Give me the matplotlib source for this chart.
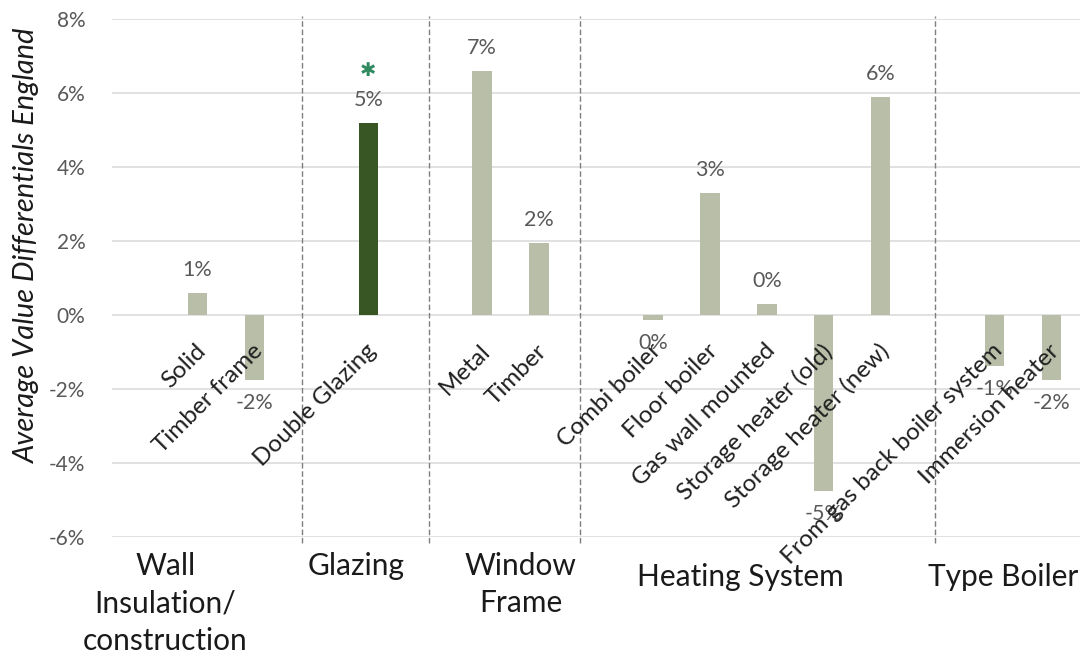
import numpy as np
import matplotlib
matplotlib.use("Agg")
import matplotlib.pyplot as plt
from matplotlib.ticker import FuncFormatter

# =========================
# data (values in %)
# =========================
categories = [
    "", "Solid", "Timber frame", "", "Double Glazing", "", "Metal", "Timber", "",
    "Combi boiler", "Floor boiler", "Gas wall mounted", "Storage heater (old)",
    "Storage heater (new)", "", "From gas back boiler system", "Immersion heater",
]
values = [
    np.nan, 0.6, -1.75, np.nan, 5.2, np.nan, 6.6, 1.95, np.nan,
    -0.13, 3.3, 0.3, -4.75, 5.9, np.nan, -1.38, -1.75,
]
value_labels = [
    "", "1%", "-2%", "", "5%", "", "7%", "2%", "",
    "0%", "3%", "0%", "-5%", "6%", "", "-1%", "-2%",
]
significant = ["Double Glazing"]
groups = ["Wall\nInsulation/\nconstruction", "Glazing", "Window\nFrame",
          "Heating System", "Type Boiler"]
yticks = [-6, -4, -2, 0, 2, 4, 6, 8]

# layout (data x)
GROUP_X = [0.44, 3.78, 6.68, 10.54, 15.15]
GROUP_Y = [-6.4, -6.4, -6.4, -6.7, -6.7]
SEP_X = [2.83, 5.06, 7.72, 13.95]

LIGHT = "#b8bea8"
DARK = "#375623"
STAR = "#2f8a60"
GRAY_TXT = "#595959"

plt.rcParams["font.family"] = ["Lato", "DejaVu Sans"]

fig = plt.figure(figsize=(10.87, 6.59), dpi=100)
ax = fig.add_axes([112 / 1087, 1 - 537 / 659, 968 / 1087, (537 - 19.3) / 659])

x = np.arange(len(categories))
colors = [DARK if c in significant else LIGHT for c in categories]
ax.bar(x, values, width=0.34, color=colors, zorder=3)

ax.set_xlim(-0.5, len(categories) - 0.5)
ax.set_ylim(-6, 8)
ax.set_yticks(yticks)
ax.yaxis.set_major_formatter(FuncFormatter(lambda v, p: f"{v:.0f}%"))
ax.tick_params(axis="y", length=0, pad=19, labelsize=15, labelcolor=GRAY_TXT)
ax.set_xticks([])
ax.grid(axis="y", color="#d9d9d9", linewidth=1.1, zorder=0)
for s in ax.spines.values():
    s.set_visible(False)

# value labels
for i, (v, lab) in enumerate(zip(values, value_labels)):
    if not lab:
        continue
    off = 16.5 if v >= 0 else -16.5
    ax.annotate(lab, xy=(i, v), xytext=(0, off), textcoords="offset points",
                ha="center", va="center", fontsize=15.5, color=GRAY_TXT, zorder=4)

# category labels at the zero line, rotated
for i, c in enumerate(categories):
    if not c:
        continue
    ax.annotate(c, xy=(i, 0), xytext=(-2, -18), textcoords="offset points",
                rotation=45, rotation_mode="anchor", ha="right", va="top",
                fontsize=17.5, color="#1f1f1f", zorder=5)

# significance marker
for i, c in enumerate(categories):
    if c in significant:
        ax.text(i, 6.62, "\u2731", ha="center", va="center", fontsize=14,
                color=STAR, family=["DejaVu Sans"])

# group separators
for sx in SEP_X:
    ax.plot([sx, sx], [-6.15, 8.1], color="#7f7f7f", linewidth=1.0,
            linestyle=(0, (4, 2)), clip_on=False, zorder=2)

# group names
for gx, gy, g in zip(GROUP_X, GROUP_Y, groups):
    ax.text(gx, gy, g, ha="center", va="top", fontsize=21.5, color="#1a1a1a",
            linespacing=1.42, clip_on=False)

fig.text(27 / 1087, 1 - 245 / 659, "Average Value Differentials England",
         rotation=90, ha="center", va="center", fontsize=21, style="italic",
         color="#1a1a1a")

fig.savefig("out.png", dpi=100)
